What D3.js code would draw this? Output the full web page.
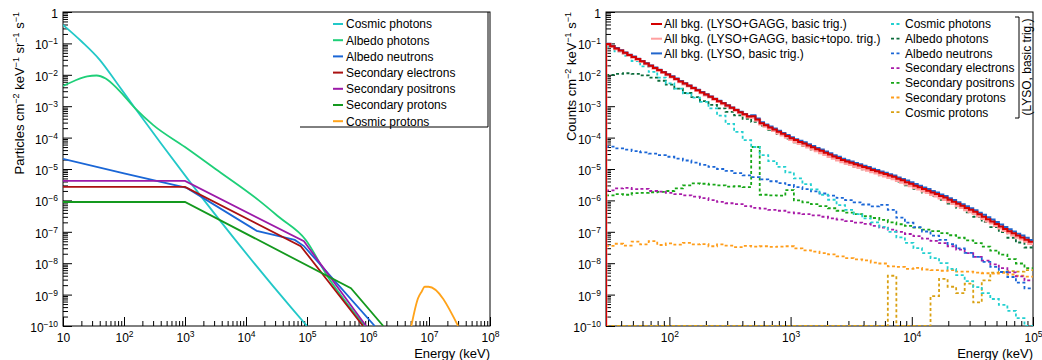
<!DOCTYPE html>
<html>
<head>
<meta charset="utf-8">
<script src="https://cdn.jsdelivr.net/npm/d3@7"></script>
<style>
body { margin: 0; background: #fff; }
svg { font-family: "Liberation Sans", Arial, sans-serif; }
</style>
</head>
<body>
<script>
const W = 1042
const H = 360
const yLo = 1e-10
const yHi = 1

// ---------- left panel: input spectra (energy in keV, flux) ----------
const spectraNames = ['Cosmic photons', 'Albedo photons', 'Albedo neutrons', 'Secondary electrons',
    'Secondary positrons', 'Secondary protons', 'Cosmic protons']

const cosmicPhotonE = [10, 20, 40, 79, 151, 1170, 56000, 100000]
const cosmicPhotonFlux = [0.39, 0.117, 0.03, 5.0e-3, 8.7e-4, 4.2e-6, 3.7e-10, 1e-10]

const albedoPhotonE = [10, 15.8, 25, 35.5, 50, 79, 151, 302, 1000, 3162, 16218, 34674, 95500, 213800, 891000]
const albedoPhotonFlux = [4.4e-3, 6.6e-3, 8.9e-3, 9.5e-3, 7.6e-3, 3.5e-3, 8.7e-4, 2.5e-4, 5.0e-5, 1.0e-5,
    1.0e-6, 2.95e-7, 5.5e-8, 4.0e-9, 1e-10]

const albedoNeutronE = [10, 100, 1070, 15000, 32000, 63000, 89000, 1.29e6]
const albedoNeutronFlux = [2.1e-5, 7.2e-6, 2.5e-6, 1.07e-7, 7.6e-8, 5.5e-8, 3.5e-8, 1e-10]

const secElectronE = [10, 1000, 79000, 8.3e5]
const secElectronFlux = [2.7e-6, 2.7e-6, 3.5e-8, 1e-10]

const secPositronE = [10, 1000, 89000, 9.3e5]
const secPositronFlux = [4.2e-6, 4.2e-6, 5.0e-8, 1e-10]

const secProtonE = [10, 1000, 5.25e5, 1.78e6]
const secProtonFlux = [8.9e-7, 8.9e-7, 1.6e-9, 1e-10]

const cosmicProtonE = [5.13e6, 6.6e6, 7.6e6, 8.5e6, 9.8e6, 3.0e7]
const cosmicProtonFlux = [1e-10, 7.6e-10, 1.26e-9, 1.78e-9, 1.78e-9, 1e-10]

// ---------- right panel: simulated count spectra, log10(counts) per bin ----------
const binLo = 30
const binHi = 1e5
const totalNames = ['All bkg. (LYSO+GAGG, basic trig.)', 'All bkg. (LYSO+GAGG, basic+topo. trig.)',
    'All bkg. (LYSO, basic trig.)']

// 100 log bins 30 keV - 100 MeV
const gaggBasicLog = [
    -1.02, -1.09, -1.16, -1.23, -1.30, -1.37, -1.43, -1.50, -1.57, -1.64,
    -1.71, -1.78, -1.85, -1.92, -1.99, -2.06, -2.13, -2.21, -2.28, -2.35,
    -2.42, -2.49, -2.56, -2.63, -2.70, -2.77, -2.84, -2.91, -2.98, -3.05,
    -3.12, -3.19, -3.26, -3.33, -3.32, -3.42, -3.54, -3.61, -3.68, -3.74,
    -3.81, -3.88, -3.95, -4.02, -4.08, -4.14, -4.19, -4.25, -4.31, -4.37,
    -4.42, -4.48, -4.54, -4.60, -4.65, -4.71, -4.76, -4.80, -4.85, -4.89,
    -4.94, -4.98, -5.03, -5.07, -5.12, -5.16, -5.21, -5.25, -5.31, -5.36,
    -5.42, -5.47, -5.53, -5.58, -5.64, -5.69, -5.75, -5.80, -5.86, -5.91,
    -5.98, -6.04, -6.11, -6.17, -6.24, -6.30, -6.36, -6.44, -6.52, -6.60,
    -6.67, -6.75, -6.83, -6.91, -6.98, -7.05, -7.12, -7.18, -7.25, -7.32]

const gaggTopoLog = [
    -1.03, -1.10, -1.17, -1.24, -1.31, -1.38, -1.44, -1.51, -1.58, -1.65,
    -1.72, -1.79, -1.86, -1.93, -2.00, -2.07, -2.14, -2.22, -2.29, -2.36,
    -2.43, -2.50, -2.57, -2.64, -2.71, -2.78, -2.85, -2.92, -2.99, -3.06,
    -3.13, -3.20, -3.27, -3.34, -3.35, -3.45, -3.57, -3.64, -3.71, -3.77,
    -3.85, -3.92, -3.99, -4.06, -4.13, -4.19, -4.24, -4.30, -4.36, -4.42,
    -4.48, -4.54, -4.60, -4.66, -4.71, -4.77, -4.82, -4.86, -4.91, -4.95,
    -5.00, -5.04, -5.09, -5.13, -5.18, -5.22, -5.27, -5.31, -5.37, -5.42,
    -5.48, -5.53, -5.59, -5.64, -5.70, -5.75, -5.81, -5.86, -5.92, -5.97,
    -6.04, -6.10, -6.17, -6.23, -6.30, -6.36, -6.42, -6.50, -6.58, -6.66,
    -6.72, -6.80, -6.88, -6.96, -7.03, -7.10, -7.17, -7.23, -7.30, -7.37]

const lysoBasicLog = [
    -1.01, -1.08, -1.15, -1.22, -1.29, -1.36, -1.42, -1.49, -1.56, -1.63,
    -1.70, -1.77, -1.84, -1.91, -1.98, -2.05, -2.12, -2.20, -2.27, -2.34,
    -2.41, -2.48, -2.55, -2.62, -2.69, -2.76, -2.83, -2.90, -2.97, -3.04,
    -3.11, -3.18, -3.25, -3.31, -3.29, -3.39, -3.51, -3.58, -3.65, -3.71,
    -3.78, -3.85, -3.92, -3.99, -4.05, -4.10, -4.15, -4.21, -4.27, -4.33,
    -4.38, -4.44, -4.50, -4.56, -4.61, -4.67, -4.72, -4.76, -4.81, -4.85,
    -4.90, -4.94, -4.99, -5.03, -5.08, -5.12, -5.17, -5.21, -5.27, -5.32,
    -5.37, -5.42, -5.48, -5.53, -5.59, -5.64, -5.70, -5.75, -5.81, -5.86,
    -5.93, -5.99, -6.06, -6.12, -6.19, -6.25, -6.31, -6.39, -6.46, -6.54,
    -6.61, -6.69, -6.77, -6.85, -6.92, -6.99, -7.06, -7.12, -7.19, -7.26]

// components, LYSO basic trigger, 50 log bins
const compCosmicPhotonsLog = [
    -1.11, -1.25, -1.40, -1.56, -1.73, -1.91, -2.09, -2.27, -2.44, -2.59,
    -2.73, -2.86, -3.07, -3.30, -3.56, -3.82, -4.08, -4.30, -4.56, -4.75,
    -4.93, -5.11, -5.30, -5.48, -5.65, -5.82, -5.98, -6.15, -6.30, -6.44,
    -6.57, -6.70, -6.84, -7.00, -7.18, -7.35, -7.52, -7.68, -7.84, -8.00,
    -8.18, -8.38, -8.57, -8.76, -8.95, -9.14, -9.33, -9.52, -9.75, -10.4]

const compAlbedoPhotonsLog = [
    -2.00, -1.97, -1.95, -1.97, -2.02, -2.09, -2.19, -2.31, -2.44, -2.58,
    -2.71, -2.84, -2.96, -3.07, -3.18, -3.29, -3.40, -3.50, -3.62, -3.75,
    -3.89, -4.03, -4.15, -4.26, -4.38, -4.49, -4.61, -4.72, -4.82, -4.92,
    -5.01, -5.10, -5.20, -5.29, -5.40, -5.52, -5.63, -5.75, -5.86, -5.98,
    -6.10, -6.24, -6.38, -6.52, -6.68, -6.85, -7.01, -7.19, -7.34, -7.50]

const compAlbedoNeutronsLog = [
    -4.29, -4.34, -4.38, -4.43, -4.47, -4.51, -4.56, -4.61, -4.67, -4.73,
    -4.80, -4.87, -4.93, -5.00, -5.06, -5.13, -5.20, -5.26, -5.33, -5.39,
    -5.45, -5.51, -5.58, -5.64, -5.71, -5.78, -5.85, -5.92, -5.99, -6.06,
    -6.13, -6.19, -6.14, -6.30, -6.55, -6.71, -6.85, -6.99, -7.12, -7.26,
    -7.39, -7.53, -7.67, -7.80, -7.96, -8.12, -8.28, -8.44, -8.62, -8.80]

const compSecElectronsLog = [
    -5.68, -5.62, -5.60, -5.64, -5.63, -5.70, -5.72, -5.76, -5.80, -5.84,
    -5.88, -5.93, -5.99, -6.05, -6.09, -6.12, -6.18, -6.24, -6.26, -6.30,
    -6.33, -6.38, -6.41, -6.44, -6.48, -6.52, -6.57, -6.61, -6.66, -6.71,
    -6.75, -6.81, -6.87, -6.93, -7.00, -7.07, -7.14, -7.22, -7.29, -7.36,
    -7.46, -7.57, -7.68, -7.80, -7.92, -8.04, -8.16, -8.29, -8.42, -8.55]

const compSecPositronsLog = [
    -5.84, -5.80, -5.82, -5.77, -5.76, -5.74, -5.73, -5.70, -5.62, -5.52,
    -5.46, -5.47, -5.50, -5.52, -5.56, -5.55, -5.58, -4.30, -5.82, -5.84,
    -5.85, -5.67, -6.00, -6.06, -6.12, -6.18, -6.25, -6.33, -6.39, -6.44,
    -6.50, -6.56, -6.62, -6.70, -6.76, -6.81, -6.87, -6.93, -6.98, -7.04,
    -7.11, -7.19, -7.27, -7.36, -7.47, -7.60, -7.73, -7.87, -8.01, -8.16]

const compSecProtonsLog = [
    -7.45, -7.38, -7.44, -7.31, -7.40, -7.30, -7.42, -7.37, -7.41, -7.35,
    -7.40, -7.39, -7.46, -7.40, -7.44, -7.49, -7.45, -7.47, -7.46, -7.48,
    -7.47, -7.46, -7.53, -7.59, -7.63, -7.68, -7.72, -7.78, -7.84, -7.88,
    -7.91, -7.98, -8.01, -8.10, -8.12, -8.18, -8.15, -8.20, -8.22, -8.24,
    -8.22, -8.27, -8.27, -8.30, -8.32, -8.33, -8.31, -8.36, -8.40, -8.43]

// empty bins are null
const compCosmicProtonsLog = [
    null, null, null, null, null, null, null, null, null, null,
    null, null, null, null, null, null, null, null, null, null,
    null, null, null, null, null, null, null, null, null, null,
    null, null, null, -8.40, null, null, null, null, -9.05, -8.50,
    -8.75, -8.95, -8.65, -9.25, -8.55, -8.30, -8.28, -8.25, -8.27, -8.22]

// ---------- styles ----------
const leftColors = ['#22c8c8', '#1ecf78', '#1a66d6', '#aa1111', '#9c1aa8', '#14991e', '#ffa31a']
const totalColors = ['#d40000', '#ffa0a0', '#2266cc']
const totalWidths = [2, 3, 2]
const compColors = ['#22d0d0', '#0b6b3a', '#1a66d6', '#a81aa8', '#16a616', '#ff9d1a', '#d9a012']

const svg = d3.select('body').append('svg')
    .attr('width', W)
    .attr('height', H)

function richText (sel, parts, supSize) {
    let prevSup = false
    parts.forEach(function (p) {
        const isSup = p[1]
        const ts = sel.append('tspan').text(p[0])
        if (isSup) ts.attr('font-size', supSize)
        if (isSup && !prevSup) ts.attr('dy', -5)
        if (!isSup && prevSup) ts.attr('dy', 5)
        prevSup = isSup
    })
}

function decadeLabel (sel, d) {
    const e = Math.round(Math.log10(d))
    sel.text(null)
    if (e === 0) sel.text('1')
    else if (e === 1) sel.text('10')
    else richText(sel, [['10', false], [String(e).replace('-', '\u2212'), true]], '8.5px')
}

function minorTicks (lo, hi) {
    const out = []
    for (let k = Math.floor(Math.log10(lo)); k < Math.ceil(Math.log10(hi)); k++) {
        for (let m = 2; m <= 9; m++) {
            const v = m * Math.pow(10, k)
            if (v > lo && v < hi) out.push(v)
        }
    }
    return out
}

function decades (lo, hi) {
    const out = []
    for (let k = Math.ceil(Math.log10(lo) - 1e-9); k <= Math.floor(Math.log10(hi) + 1e-9); k++) out.push(Math.pow(10, k))
    return out
}

function buildPanel (x0, x1, xDomain, id, yTitleParts, yTitleX) {
    const top = 12
    const bottom = 326
    const x = d3.scaleLog().domain(xDomain).range([x0, x1])
    const y = d3.scaleLog().domain([yLo, yHi]).range([bottom, top])

    const g = svg.append('g')

    svg.append('clipPath').attr('id', id)
        .append('rect')
        .attr('x', x0).attr('y', top - 1).attr('width', x1 - x0).attr('height', bottom - top + 1)

    const xMinor = g.append('g').attr('transform', `translate(0,${bottom})`)
        .call(d3.axisBottom(x).tickValues(minorTicks(xDomain[0], xDomain[1])).tickSize(-5).tickFormat(''))
    const xMajor = g.append('g').attr('transform', `translate(0,${bottom})`)
        .call(d3.axisBottom(x).tickValues(decades(xDomain[0], xDomain[1])).tickSize(-9).tickPadding(3))
    const yMinor = g.append('g').attr('transform', `translate(${x0},0)`)
        .call(d3.axisLeft(y).tickValues(minorTicks(yLo, yHi)).tickSize(-5).tickFormat(''))
    const yMajor = g.append('g').attr('transform', `translate(${x0},0)`)
        .call(d3.axisLeft(y).tickValues(decades(yLo, yHi)).tickSize(-9).tickPadding(5))

    ;[xMinor, xMajor, yMinor, yMajor].forEach(function (a) {
        a.select('.domain').remove()
        a.attr('font-family', null).attr('font-size', '12px')
        a.selectAll('.tick line').attr('stroke', '#000')
    })
    xMajor.selectAll('.tick text').attr('fill', '#000').attr('dy', '1.05em')
        .each(function (d) { decadeLabel(d3.select(this), d) })
    yMajor.selectAll('.tick text').attr('fill', '#000').attr('dy', '0.45em')
        .each(function (d) { decadeLabel(d3.select(this), d) })

    g.append('rect')
        .attr('x', x0).attr('y', top)
        .attr('width', x1 - x0).attr('height', bottom - top)
        .attr('fill', 'none').attr('stroke', '#000').attr('stroke-width', 1)

    g.append('text')
        .attr('x', x1).attr('y', 357.5)
        .attr('text-anchor', 'end')
        .attr('font-size', '13px')
        .text('Energy (keV)')

    const yt = g.append('text')
        .attr('transform', `translate(${yTitleX},${top}) rotate(-90)`)
        .attr('text-anchor', 'end')
        .attr('font-size', '13px')
    richText(yt, yTitleParts, '9px')

    const plot = svg.append('g').attr('clip-path', `url(#${id})`)
    return { x: x, y: y, plot: plot }
}

// ---------- left panel ----------
const left = buildPanel(63, 490, [10, 1e8], 'clipL',
    [['Particles cm', false], ['\u22122', true], [' keV', false], ['\u22121', true],
        [' sr', false], ['\u22121', true], [' s', false], ['\u22121', true]], 24)

const leftSeries = [
    [cosmicPhotonE, cosmicPhotonFlux, true],
    [albedoPhotonE, albedoPhotonFlux, true],
    [albedoNeutronE, albedoNeutronFlux, false],
    [secElectronE, secElectronFlux, false],
    [secPositronE, secPositronFlux, false],
    [secProtonE, secProtonFlux, false],
    [cosmicProtonE, cosmicProtonFlux, true]
]

leftSeries.forEach(function (s, i) {
    const pts = s[0].map(function (e, k) { return [e, s[1][k]] })
    const line = d3.line()
        .x(function (d) { return left.x(d[0]) })
        .y(function (d) { return left.y(d[1]) })
        .curve(s[2] ? d3.curveMonotoneX : d3.curveLinear)
    left.plot.append('path')
        .attr('d', line(pts))
        .attr('fill', 'none')
        .attr('stroke', leftColors[i])
        .attr('stroke-width', 1.8)
})

// left legend
const legL = svg.append('g')
legL.append('path')
    .attr('d', 'M300,127H488V12')
    .attr('fill', 'none').attr('stroke', '#000').attr('stroke-width', 1)
spectraNames.forEach(function (name, i) {
    const yy = 24 + i * 16.2
    legL.append('line')
        .attr('x1', 333).attr('x2', 343).attr('y1', yy).attr('y2', yy)
        .attr('stroke', leftColors[i]).attr('stroke-width', 2)
    legL.append('text')
        .attr('x', 346).attr('y', yy).attr('dy', '0.36em')
        .attr('font-size', '12px')
        .text(name)
})

// ---------- right panel ----------
const right = buildPanel(606, 1033, [binLo, binHi], 'clipR',
    [['Counts cm', false], ['\u22122', true], [' keV', false], ['\u22121', true],
        [' s', false], ['\u22121', true]], 576)

function binEdges (n) {
    return d3.range(n + 1).map(function (i) { return binLo * Math.pow(binHi / binLo, i / n) })
}

function stepPath (edges, vals, fromBottom) {
    const p = d3.path()
    const yb = right.y(yLo)
    vals.forEach(function (v, i) {
        const c = v === null ? yLo : Math.max(Math.pow(10, v), yLo)
        const yy = right.y(c)
        if (i === 0) {
            if (fromBottom) {
                p.moveTo(right.x(edges[0]), yb)
                p.lineTo(right.x(edges[0]), yy)
            } else {
                p.moveTo(right.x(edges[0]), yy)
            }
        } else {
            p.lineTo(right.x(edges[i]), yy)
        }
        p.lineTo(right.x(edges[i + 1]), yy)
    })
    return p.toString()
}

const coarse = binEdges(50)
const fine = binEdges(100)

const compSeries = [compCosmicPhotonsLog, compAlbedoPhotonsLog, compAlbedoNeutronsLog, compSecElectronsLog,
    compSecPositronsLog, compSecProtonsLog, compCosmicProtonsLog]

for (let i = compSeries.length - 1; i >= 0; i--) {
    right.plot.append('path')
        .attr('d', stepPath(coarse, compSeries[i], false))
        .attr('fill', 'none')
        .attr('stroke', compColors[i])
        .attr('stroke-width', 1.8)
        .attr('stroke-dasharray', '3,2.5')
}

const totalSeries = [gaggBasicLog, gaggTopoLog, lysoBasicLog]
;[1, 2, 0].forEach(function (i) {
    right.plot.append('path')
        .attr('d', stepPath(fine, totalSeries[i], true))
        .attr('fill', 'none')
        .attr('stroke', totalColors[i])
        .attr('stroke-width', totalWidths[i])
})

// right legends
const legR = svg.append('g')
totalNames.forEach(function (name, i) {
    const yy = 24 + i * 14.7
    legR.append('line')
        .attr('x1', 651).attr('x2', 662).attr('y1', yy).attr('y2', yy)
        .attr('stroke', totalColors[i]).attr('stroke-width', 2)
    legR.append('text')
        .attr('x', 664).attr('y', yy).attr('dy', '0.36em')
        .attr('font-size', '12px')
        .text(name)
})
spectraNames.forEach(function (name, i) {
    const yy = 24 + i * 14.7
    legR.append('line')
        .attr('x1', 891).attr('x2', 902).attr('y1', yy).attr('y2', yy)
        .attr('stroke', compColors[i]).attr('stroke-width', 1.8)
        .attr('stroke-dasharray', '3,2.5')
    legR.append('text')
        .attr('x', 905).attr('y', yy).attr('dy', '0.36em')
        .attr('font-size', '12px')
        .text(name)
})
legR.append('path')
    .attr('d', 'M1015,17H1019V118H1015')
    .attr('fill', 'none').attr('stroke', '#000').attr('stroke-width', 1)
legR.append('text')
    .attr('transform', 'translate(1031,67) rotate(-90)')
    .attr('text-anchor', 'middle')
    .attr('font-size', '12px')
    .text('(LYSO, basic trig.)')
</script>
</body>
</html>
